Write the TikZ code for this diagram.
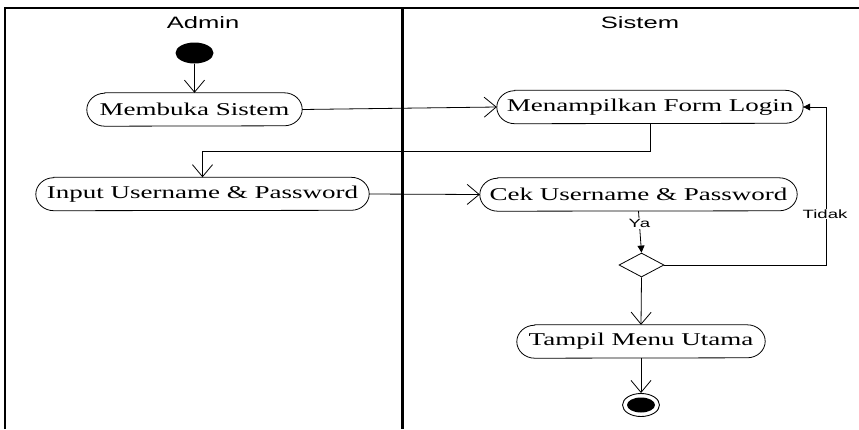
\documentclass[tikz,border=0pt]{standalone}
\usepackage{fontspec}
\setmainfont{Liberation Serif}[FakeStretch=1.5]
\newfontfamily\lanefont{Liberation Sans}[FakeStretch=1.55]
\usetikzlibrary{arrows.meta,shapes.geometric}

\tikzset{
  flow/.style={draw=black, line width=0.8pt},
  vtip/.style={-{Straight Barb[length=12pt,width=20pt]}},
  ftip/.style={-{Triangle[length=7pt,width=7pt]}},
  activity/.style={inner xsep=0pt, inner ysep=0pt, minimum height=33pt,
    font=\fontsize{18}{20}\selectfont},
  lanetitle/.style={font=\lanefont\fontsize{16.5}{18}\selectfont, anchor=base, inner sep=0pt},
  guard/.style={font=\lanefont\fontsize{12}{14}\selectfont, fill=white, inner sep=1pt},
}

% stadium outline with elliptical ends around an activity node
\newcommand\actoutline[1]{%
  \draw[flow] ([xshift=18pt]#1.north west) -- ([xshift=-18pt]#1.north east)
    arc[start angle=90,end angle=-90,x radius=18pt,y radius=16.5pt]
    -- ([xshift=18pt]#1.south west)
    arc[start angle=270,end angle=90,x radius=18pt,y radius=16.5pt] -- cycle;}

\begin{document}
\begin{tikzpicture}[x=1pt,y=-1pt]
\useasboundingbox (0,0) rectangle (859,429);

% swimlanes
\draw[line width=1.2pt] (5,429) -- (5,8) -- (859,8);
\draw[line width=3pt] (402,8) -- (402,429);
\node[lanetitle] (admin) at (203,28) {Admin};
\node[lanetitle] (sistem) at (640,28) {Sistem};

% states and activities
\node[ellipse, fill=black, minimum width=38pt, minimum height=21pt, inner sep=0pt] (start) at (194.5,53) {};
\node[activity, minimum width=215pt] (buka) at (194.5,109.5) {Membuka Sistem};
\node[activity, minimum width=306pt] (form) at (650,107) {Menampilkan Form Login};
\node[activity, minimum width=333pt] (input) at (202.5,194) {Input Username \& Password};
\node[activity, minimum width=317pt] (cek) at (638.5,194.5) {Cek Username \& Password};
\node[diamond, draw, line width=0.8pt, minimum width=45pt, minimum height=24pt, inner sep=0pt] (valid) at (641.5,265) {};
\node[activity, minimum width=248pt] (menu) at (641,341.5) {Tampil Menu Utama};
\node[ellipse, draw, line width=0.9pt, minimum width=37pt, minimum height=23pt, inner sep=0pt] (end) at (641,405) {};
\node[ellipse, fill=black, minimum width=28pt, minimum height=15pt, inner sep=0pt] (endcore) at (end.center) {};

\foreach \n in {buka,form,input,cek,menu} {\actoutline{\n}}

% transitions
\draw[flow, vtip] (start) -- (buka.north);
\draw[flow, vtip] (buka.east) -- (form.west);
\draw[flow, vtip] (form.south) -- ++(0,28) -| (input.north);
\draw[flow, vtip] (input.east) -- (cek.west);
\draw[flow, ftip] (cek.south) -- node[guard, pos=0.3] (ya) {Ya} (valid.north);
\draw[flow, ftip] (valid.east) -- ++(162,0) |- (form.east);
\node[guard] (tidak) at (825,214) {Tidak};
\draw[flow, vtip] (valid.south) -- (menu.north);
\draw[flow, vtip] (menu.south) -- (end.north);
\end{tikzpicture}
\end{document}
